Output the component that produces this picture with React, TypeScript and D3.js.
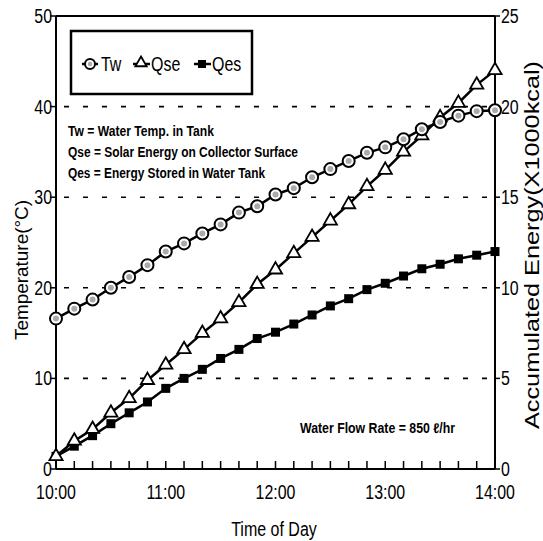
import React from 'react';
import * as d3 from 'd3';

// time of day, every 10 minutes
const times = [
  '10:00', '10:10', '10:20', '10:30', '10:40', '10:50',
  '11:00', '11:10', '11:20', '11:30', '11:40', '11:50',
  '12:00', '12:10', '12:20', '12:30', '12:40', '12:50',
  '13:00', '13:10', '13:20', '13:30', '13:40', '13:50', '14:00',
];
const hourLabels = ['10:00', '11:00', '12:00', '13:00', '14:00'];

// water temperature in tank (°C, left axis)
const tw = [
  16.6, 17.7, 18.7, 20.0, 21.2, 22.5, 24.0, 24.9, 26.0, 27.0, 28.3, 29.0,
  30.3, 31.0, 32.2, 33.1, 34.0, 34.9, 35.5, 36.4, 37.5, 38.3, 39.0, 39.5, 39.6,
];
// solar energy on collector surface (x1000 kcal, right axis)
const qse = [
  0.7, 1.55, 2.2, 3.1, 3.9, 4.9, 5.75, 6.6, 7.5, 8.3, 9.2, 10.2,
  11.0, 11.9, 12.8, 13.7, 14.6, 15.6, 16.5, 17.5, 18.4, 19.4, 20.2, 21.2, 22.0,
];
// energy stored in water tank (x1000 kcal, right axis)
const qes = [
  0.7, 1.26, 1.84, 2.5, 3.1, 3.7, 4.45, 5.0, 5.5, 6.1, 6.6, 7.2,
  7.55, 8.0, 8.5, 9.0, 9.4, 9.9, 10.25, 10.65, 11.05, 11.3, 11.6, 11.8, 12.0,
];

const leftTicks = [0, 10, 20, 30, 40, 50];
const rightTicks = [0, 5, 10, 15, 20, 25];
const gridTicks = [10, 20, 30, 40];

const notes = [
  'Tw = Water Temp. in Tank',
  'Qse = Solar Energy on Collector Surface',
  'Qes = Energy Stored in Water Tank',
];
const noteWidths = [146, 230, 197];

const font = "'Liberation Sans', Arial, sans-serif";

const toMin = (t: string) => {
  const [h, m] = t.split(':').map(Number);
  return (h - 10) * 60 + m;
};

// condensed text: regular font squeezed horizontally
const NText: React.FC<{
  x: number; y: number; size?: number; anchor?: string; sx?: number; bold?: boolean;
  children: React.ReactNode;
}> = ({ x, y, size = 21, anchor = 'start', sx = 0.76, bold = false, children }) => (
  <text transform={`translate(${x},${y}) scale(${sx},1)`} textAnchor={anchor}
    fontFamily={font} fontSize={size} fontWeight={bold ? 'bold' : 'normal'}>
    {children}
  </text>
);

const App: React.FC = () => {
  const left = 56, right = 495, top = 16, bottom = 469;
  const x = d3.scaleLinear().domain([0, 240]).range([left, right]);
  const yL = d3.scaleLinear().domain([0, 50]).range([bottom, top]);
  const yR = d3.scaleLinear().domain([0, 25]).range([bottom, top]);

  const mins = times.map(toMin);
  const lineL = d3.line<number>().x((_, i) => x(mins[i])).y(d => yL(d));
  const lineR = d3.line<number>().x((_, i) => x(mins[i])).y(d => yR(d));

  const tri = d3.symbol().type(d3.symbolTriangle).size(75)();
  const triSmall = d3.symbol().type(d3.symbolTriangle).size(55)();

  return (
    <svg width={543} height={541} style={{ display: 'block', background: '#fff' }}>
      <style>{`body{margin:0}`}</style>

      {/* dashed grid */}
      {gridTicks.map(t => (
        <line key={`g${t}`} x1={left} x2={right} y1={yL(t)} y2={yL(t)}
          stroke="#000" strokeWidth={1.6} strokeDasharray="5,14" strokeDashoffset={-8} />
      ))}

      {/* frame */}
      <line x1={left} x2={right} y1={top} y2={top} stroke="#000" strokeWidth={2} />
      <line x1={left} x2={right} y1={bottom} y2={bottom} stroke="#000" strokeWidth={2} />
      <line x1={left} x2={left} y1={top} y2={bottom} stroke="#000" strokeWidth={2} />
      <line x1={right} x2={right} y1={top} y2={bottom} stroke="#000" strokeWidth={2} />

      {/* left axis */}
      {leftTicks.map(t => (
        <g key={`l${t}`}>
          <line x1={left - 6} x2={left} y1={yL(t)} y2={yL(t)} stroke="#000" strokeWidth={1.5} />
          <NText x={left - 4} y={yL(t) + 7} anchor="end">{t}</NText>
        </g>
      ))}
      {/* right axis */}
      {rightTicks.map(t => (
        <g key={`r${t}`}>
          <line x1={right} x2={right + 5} y1={yR(t)} y2={yR(t)} stroke="#000" strokeWidth={1.5} />
          <NText x={right + 6} y={yR(t) + 7}>{t}</NText>
        </g>
      ))}
      {/* bottom axis */}
      {mins.map(m => (
        <line key={`b${m}`} x1={x(m)} x2={x(m)} y1={bottom} y2={bottom - 8} stroke="#000" strokeWidth={1.5} />
      ))}
      {hourLabels.map(h => (
        <NText key={h} x={x(toMin(h))} y={499} anchor="middle">{h}</NText>
      ))}

      <NText x={274} y={536} anchor="middle" size={20} sx={0.8}>Time of Day</NText>
      <text transform="translate(28,270) rotate(-90)" textAnchor="middle" fontFamily={font} fontSize={19}
        textLength={140} lengthAdjust="spacingAndGlyphs">Temperature(°C)</text>
      <text transform="translate(539,245) rotate(-90)" textAnchor="middle" fontFamily={font} fontSize={20}
        textLength={368} lengthAdjust="spacingAndGlyphs">Accumulated Energy(X1000kcal)</text>

      {/* series */}
      <path d={lineR(qes) || ''} fill="none" stroke="#000" strokeWidth={2.5} />
      <path d={lineR(qse) || ''} fill="none" stroke="#000" strokeWidth={2.5} />
      <path d={lineL(tw) || ''} fill="none" stroke="#000" strokeWidth={2.5} />

      {qes.map((v, i) => (
        <rect key={`s${i}`} x={x(mins[i]) - 4.5} y={yR(v) - 4.5} width={9} height={9} fill="#000" />
      ))}
      {qse.map((v, i) => (
        <path key={`t${i}`} d={tri || ''} transform={`translate(${x(mins[i])},${yR(v)})`}
          fill="#fff" stroke="#000" strokeWidth={1.8} />
      ))}
      {tw.map((v, i) => (
        <g key={`c${i}`}>
          <circle cx={x(mins[i])} cy={yL(v)} r={6} fill="#fff" stroke="#000" strokeWidth={2} />
          <circle cx={x(mins[i])} cy={yL(v)} r={3} fill="#aaa" />
        </g>
      ))}

      {/* legend */}
      <rect x={71} y={31} width={181} height={63} fill="#fff" stroke="#000" strokeWidth={2.5} />
      <g>
        <line x1={82} x2={98} y1={64} y2={64} stroke="#000" strokeWidth={2.5} />
        <circle cx={90} cy={64} r={5} fill="#fff" stroke="#000" strokeWidth={2} />
        <circle cx={90} cy={64} r={2.2} fill="#aaa" />
        <NText x={101} y={71}>Tw</NText>
        <line x1={133} x2={150} y1={64} y2={64} stroke="#000" strokeWidth={2.5} />
        <path d={triSmall || ''} transform="translate(141,63)" fill="#fff" stroke="#000" strokeWidth={1.8} />
        <NText x={151} y={71}>Qse</NText>
        <line x1={194} x2={211} y1={64} y2={64} stroke="#000" strokeWidth={2.5} />
        <rect x={198} y={60} width={8} height={8} fill="#000" />
        <NText x={212} y={71}>Qes</NText>
      </g>

      {/* annotations */}
      {notes.map((n, i) => (
        <text key={n} x={68} y={136 + i * 21} fontFamily={font} fontWeight="bold" fontSize={14}
          textLength={noteWidths[i]} lengthAdjust="spacingAndGlyphs">{n}</text>
      ))}
      <text x={300} y={433} fontFamily={font} fontWeight="bold" fontSize={14}
        textLength={155} lengthAdjust="spacingAndGlyphs">Water Flow Rate = 850 ℓ/hr</text>
    </svg>
  );
};

export default App;
